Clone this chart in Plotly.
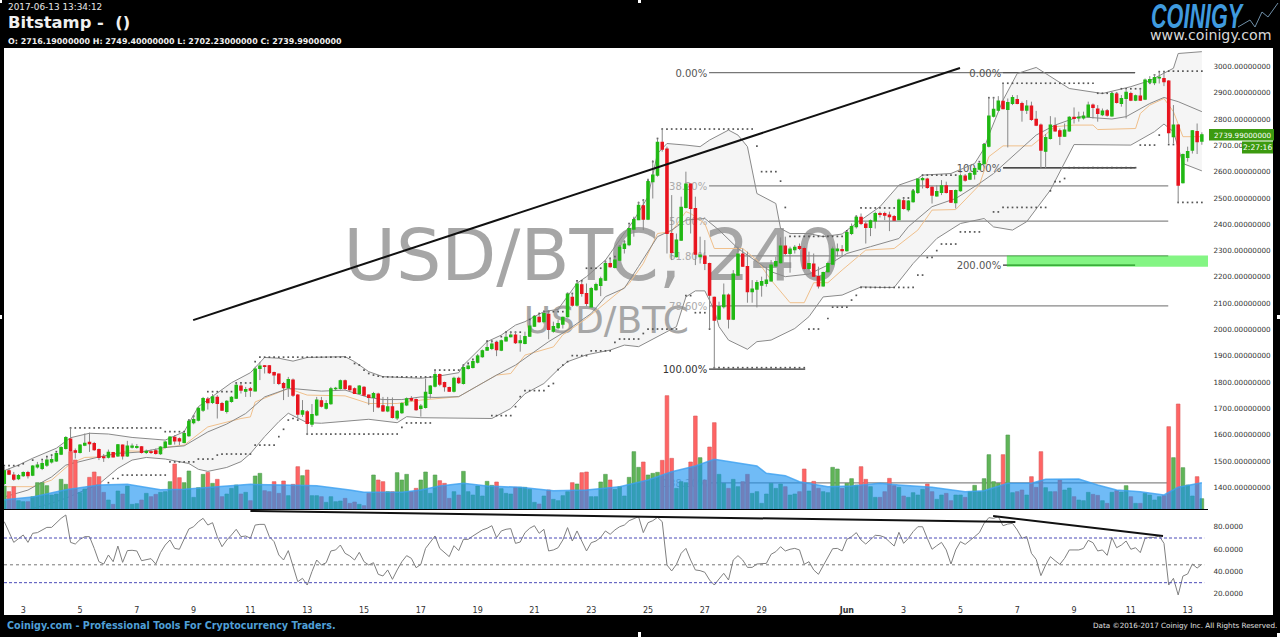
import pandas as pd
import plotly.graph_objects as go

open_ = [1415,1463,1447,1433,1445,1456,1447,1478,1472,1485,
1497,1501,1527,1548,1584,1539,1533,1561,1571,1567,
1544,1516,1515,1532,1520,1561,1520,1553,1552,1554,
1533,1535,1539,1528,1552,1565,1590,1585,1571,1597,
1646,1656,1694,1736,1723,1742,1719,1689,1727,1739,
1785,1766,1775,1767,1852,1862,1862,1836,1831,1795,
1779,1808,1751,1679,1687,1641,1676,1729,1701,1718,
1775,1776,1805,1785,1775,1757,1780,1751,1742,1755,
1710,1691,1706,1664,1684,1714,1738,1734,1700,1704,
1757,1785,1829,1798,1779,1766,1815,1795,1852,1856,
1876,1897,1922,1928,1950,1922,1957,1973,1979,1950,
1947,1975,2013,2046,2030,2058,1994,2007,2021,2049,
2122,2093,2170,2137,2086,2152,2168,2188,2251,2236,
2264,2308,2323,2382,2418,2470,2420,2562,2587,2711,
2686,2365,2277,2340,2464,2553,2460,2277,2279,2251,
2122,2040,2087,2131,2040,2207,2287,2239,2144,2154,
2169,2175,2185,2242,2254,2317,2289,2304,2315,2308,
2232,2249,2201,2166,2220,2249,2300,2304,2300,2365,
2391,2426,2401,2388,2413,2441,2441,2435,2429,2418,
2489,2456,2486,2521,2570,2572,2540,2508,2521,2546,
2528,2482,2528,2583,2572,2591,2610,2630,2697,2811,
2834,2867,2837,2859,2874,2859,2834,2849,2799,2777,
2678,2726,2774,2755,2735,2755,2806,2804,2804,2809,
2853,2838,2817,2831,2812,2895,2859,2878,2897,2872,
2887,2876,2940,2938,2956,2954,2944,2733,2777,2558,
2654,2682,2752,2716.19]
close = [1463,1451,1432,1445,1456,1445,1481,1485,1491,1504,
1506,1529,1551,1589,1539,1534,1561,1568,1566,1544,
1514,1513,1533,1516,1562,1520,1557,1557,1555,1533,
1537,1533,1529,1553,1572,1591,1577,1577,1605,1651,
1658,1701,1738,1722,1744,1719,1694,1727,1742,1788,
1770,1772,1770,1850,1861,1860,1836,1828,1795,1779,
1810,1751,1679,1691,1643,1677,1732,1709,1719,1775,
1777,1805,1776,1772,1757,1785,1751,1742,1757,1706,
1691,1706,1666,1689,1719,1737,1732,1696,1709,1761,
1785,1829,1793,1783,1766,1815,1798,1855,1861,1878,
1899,1919,1931,1945,1924,1957,1970,1979,1950,1957,
1973,2013,2049,2030,2061,2001,2011,2023,2046,2135,
2093,2173,2137,2099,2156,2171,2193,2251,2239,2264,
2312,2325,2384,2418,2472,2420,2562,2587,2711,2686,
2365,2293,2340,2464,2553,2460,2287,2283,2251,2131,
2036,2087,2131,2040,2211,2287,2241,2144,2154,2178,
2182,2188,2245,2258,2317,2289,2306,2312,2308,2232,
2251,2203,2166,2216,2251,2306,2306,2300,2368,2391,
2426,2403,2388,2413,2441,2438,2435,2429,2416,2492,
2460,2488,2526,2572,2574,2540,2511,2524,2546,2521,
2484,2528,2584,2568,2593,2612,2631,2703,2811,2837,
2868,2839,2862,2881,2859,2834,2849,2799,2777,2682,
2729,2777,2755,2735,2758,2806,2802,2806,2811,2853,
2844,2821,2830,2815,2897,2863,2878,2901,2872,2888,
2872,2948,2950,2957,2958,2942,2748,2777,2549,2665,
2676,2755,2714,2739.99]
high = [1478,1472,1459,1451,1461,1463,1485,1497,1501,1516,
1519,1535,1557,1595,1627,1548,1565,1605,1608,1573,
1548,1527,1544,1535,1565,1563,1577,1567,1565,1557,
1544,1544,1548,1557,1577,1595,1599,1590,1610,1658,
1675,1706,1744,1744,1755,1751,1725,1732,1747,1795,
1795,1782,1782,1859,1877,1865,1865,1840,1833,1801,
1820,1814,1755,1732,1694,1717,1744,1744,1732,1782,
1782,1810,1810,1789,1780,1789,1785,1753,1763,1760,
1744,1744,1742,1694,1724,1742,1747,1738,1717,1814,
1789,1846,1833,1802,1783,1821,1821,1865,1869,1884,
1907,1924,1954,1957,1956,1962,1992,1992,1992,1979,
1992,2036,2055,2055,2074,2074,2030,2036,2049,2140,
2137,2182,2182,2175,2162,2178,2201,2264,2274,2277,
2321,2340,2403,2429,2486,2492,2574,2644,2726,2764,
2695,2511,2365,2505,2600,2555,2505,2353,2340,2254,
2125,2106,2175,2137,2226,2315,2308,2296,2188,2188,
2201,2239,2264,2277,2350,2353,2315,2321,2327,2315,
2296,2289,2239,2220,2258,2315,2327,2321,2372,2403,
2435,2441,2410,2418,2448,2448,2448,2448,2435,2498,
2498,2492,2530,2574,2581,2577,2545,2549,2568,2562,
2530,2532,2593,2591,2600,2619,2638,2707,2882,2882,
2887,2935,2878,2891,2891,2866,2872,2866,2831,2783,
2743,2811,2806,2764,2783,2811,2844,2828,2828,2866,
2859,2853,2840,2838,2904,2900,2891,2910,2904,2893,
2916,2954,2963,2971,2980,2980,2948,2853,2781,2669,
2695,2758,2783,2749.4]
low = [1409,1447,1425,1428,1440,1434,1443,1472,1466,1478,
1491,1497,1523,1544,1535,1510,1529,1557,1535,1539,
1504,1497,1510,1514,1516,1506,1516,1548,1547,1529,
1527,1527,1525,1524,1548,1561,1563,1561,1567,1592,
1640,1651,1687,1696,1717,1662,1691,1681,1722,1736,
1757,1744,1744,1765,1808,1833,1831,1793,1789,1732,
1744,1744,1662,1668,1599,1630,1671,1704,1696,1714,
1767,1772,1770,1767,1755,1753,1747,1713,1687,1701,
1687,1686,1662,1656,1679,1709,1727,1691,1669,1700,
1738,1780,1785,1764,1764,1761,1793,1791,1848,1852,
1871,1893,1919,1922,1899,1918,1954,1970,1945,1916,
1944,1973,2011,2026,2023,1963,1988,2000,2004,2046,
2087,2087,2125,2089,2084,2147,2127,2185,2235,2232,
2260,2289,2317,2353,2416,2378,2416,2498,2581,2676,
2289,2264,2274,2337,2460,2365,2245,2251,2226,2004,
1852,2036,2080,2004,2036,2203,2239,2102,2102,2084,
2125,2163,2182,2239,2251,2283,2216,2289,2302,2226,
2226,2201,2156,2163,2216,2245,2277,2277,2296,2359,
2384,2397,2327,2355,2384,2426,2416,2374,2413,2416,
2456,2448,2482,2515,2536,2535,2479,2505,2511,2517,
2482,2460,2524,2562,2568,2570,2606,2627,2692,2806,
2830,2837,2692,2853,2856,2790,2819,2793,2773,2612,
2612,2722,2752,2701,2733,2752,2783,2790,2798,2806,
2802,2790,2811,2809,2809,2859,2847,2802,2868,2868,
2869,2872,2933,2929,2935,2925,2707,2707,2482,2555,
2638,2669,2667,2702.23]
volume = [69,52,67,25,22,22,37,79,79,70,
42,45,89,74,172,147,49,60,95,111,
97,50,27,14,54,45,69,14,16,27,
47,37,44,50,52,82,135,94,79,114,
35,64,104,110,77,89,37,45,62,72,
45,50,25,99,107,55,52,82,47,84,
40,74,127,100,117,40,40,37,20,37,
22,24,32,17,21,14,10,47,102,87,
82,52,52,109,87,104,52,62,87,111,
47,102,85,77,32,52,42,113,52,42,
69,39,83,71,81,61,47,45,65,65,
65,59,20,15,39,57,29,25,40,52,
79,75,109,111,37,37,81,104,87,59,
67,39,95,172,125,141,102,107,110,146,
340,152,62,82,79,141,279,154,87,186,
259,104,77,62,89,67,82,104,47,52,
17,45,77,62,75,67,42,45,52,120,
54,83,62,52,49,125,120,62,77,91,
72,127,89,67,35,35,52,92,70,65,
39,35,49,42,59,75,52,29,42,47,
25,42,42,35,52,71,52,91,163,82,
77,163,222,49,52,57,42,97,65,172,
64,52,52,87,57,63,37,27,25,50,
44,41,25,17,50,55,51,70,37,17,
17,47,42,27,37,40,247,154,315,124,
72,39,97,31]
rsi = [84.6,75.7,66.1,69.4,72.7,66.1,74.2,74.8,77.2,79.5,
79.5,83.7,87.6,90.6,66.1,64.6,68.8,71.2,71.2,60.7,
48.8,46.7,54.8,48.8,62.8,48.2,58.7,59,58.4,49.7,
50.3,51.5,46.7,56.9,63.7,68.2,60.7,59.9,69.1,78.1,
80.1,84.6,87.6,81.6,83.7,71.2,62.2,68.2,72.7,77.8,
71.2,71.8,69.7,81.6,82.2,82.2,71.2,66.7,54.8,50.3,
58.7,44.3,30.9,33.9,27.9,39.9,50.3,45.8,47.9,58.4,
59.3,63.7,56.3,53.9,50.3,57.2,48.8,45.8,47.9,37.5,
36,41.4,33,41.4,48.8,54.2,51.8,43.4,46.4,60.7,
66.7,71.8,60.7,56.9,53.3,63.1,58.7,68.8,68.8,71.8,
74.8,77.2,78.7,81,70.3,76.3,77.8,78.4,65.2,66.4,
74.8,78.7,81,74.2,77.8,58.4,59.3,61.3,68.2,79.3,
67.3,76.3,67.3,58.4,65.8,67.3,70.6,76.3,73.3,77.2,
80.1,81.6,85.5,87.6,89.1,74.8,83.7,85.5,88.5,84.6,
45.8,40.5,46.4,56.3,60.7,50.3,41.4,40.8,39.3,32.4,
27.9,33.3,38.4,32.4,50.3,54.2,50.3,43.7,43.7,46.7,
46.7,47.3,55.4,57.8,62.2,58.4,59.9,60.7,59.3,46.4,
48.8,41.4,37.5,44.9,53.3,60.4,60.7,58.4,68.8,71.2,
74.8,68.2,64.6,68.2,72.4,72.1,70.6,66.7,62.8,75.1,
65.2,69.7,75.7,80.1,80.1,69.7,59.9,63.1,66.1,59.3,
46.7,59.3,66.7,64.3,68.2,71.2,74.8,83.1,88.2,87.6,
89.1,81,82.5,83.1,77.2,69.7,71.2,56.3,50.9,36.3,
45.8,53.3,49.7,46.4,51.8,59.3,59.3,59.3,60.7,67.9,
65.8,58.4,59.3,54.5,70.3,61.3,63.7,67.3,59.9,61.3,
56.9,69.7,70.6,70.6,71.8,65.2,27.9,33.9,19,35.9,
37.8,46.7,43.1,46.4]

vol_ma_k = [0,6,13,20,26,33,38,45,52,59,66,73,76,84,88,92,97,102,109,116,123,130,136,141,146,150,155,159,161,165,168,174,179,185,189,196,203,207,212,217,220,227,231,235,240,245,248,253]
vol_ma = [28,36,58,72,74,58,59,67,74,72,70,57,50,50,57,69,77,69,65,55,57,67,87,112,129,149,139,129,107,100,82,67,69,77,72,65,52,55,77,77,89,90,72,57,52,42,65,79]

bb_up_k = [0,3,6,11,14,18,22,27,34,38,41,45,48,52,55,58,61,64,72,74,77,80,88,91,96,97,102,105,108,110,114,117,121,123,127,133,136,138,140,144,147,149,153,155,157,159,163,164,166,170,173,177,179,185,189,193,194,200,205,207,208,211,214,218,220,225,232,238,242,245,247,248,253]
bb_up = [1464,1485,1511,1549,1589,1606,1603,1590,1580,1612,1707,1758,1798,1836,1894,1891,1880,1894,1897,1878,1840,1821,1815,1821,1836,1865,1954,1979,2017,2030,2068,2077,2176,2201,2264,2416,2505,2669,2707,2701,2695,2720,2758,2739,2695,2517,2479,2384,2365,2365,2353,2363,2391,2467,2549,2574,2587,2593,2631,2688,2739,2872,2973,2996,2973,2916,2897,2923,2946,2973,2993,3049,3056]
bb_lo_k = [0,3,6,10,13,17,20,24,27,30,34,39,41,43,47,50,52,55,58,60,62,64,67,73,77,83,85,88,103,107,110,114,117,119,123,128,131,134,138,142,144,146,148,150,151,153,157,159,162,167,170,173,177,181,185,188,192,197,202,207,209,213,216,221,226,231,238,243,245,247,249,253]
bb_lo = [1300,1305,1320,1340,1359,1390,1413,1473,1504,1514,1508,1491,1469,1461,1476,1498,1529,1593,1650,1682,1663,1646,1644,1652,1659,1646,1669,1665,1662,1700,1756,1795,1848,1878,1904,1922,1941,1935,1973,2011,2124,2147,2147,2074,2011,1960,1925,1954,1960,2004,2049,2124,2131,2162,2160,2160,2251,2346,2403,2422,2390,2378,2410,2530,2703,2703,2701,2752,2781,2752,2631,2603]
bb_mid_k = [0,5,10,13,20,24,29,34,38,43,47,51,55,60,62,67,72,77,80,84,88,91,96,99,104,108,112,115,119,124,127,131,134,138,141,144,148,151,155,158,162,165,170,174,178,183,189,191,196,201,206,209,211,218,222,227,234,237,242,245,248,253]
bb_mid = [1364,1390,1440,1485,1516,1529,1535,1552,1558,1611,1641,1681,1744,1776,1774,1766,1770,1742,1734,1734,1744,1742,1745,1776,1827,1865,1916,1954,1998,2061,2125,2157,2240,2353,2378,2416,2422,2378,2308,2270,2220,2201,2211,2245,2289,2315,2346,2391,2467,2498,2555,2593,2625,2739,2777,2809,2800,2809,2859,2882,2866,2828]
ma2_k = [0,6,10,14,17,20,26,33,34,38,43,50,52,53,60,64,72,77,83,88,96,99,104,107,110,116,118,123,127,132,135,138,141,144,145,148,150,156,159,162,166,169,171,174,177,182,188,193,195,196,201,206,208,211,217,222,226,230,231,239,240,242,245,247,249,253]
ma2 = [1403,1403,1428,1491,1514,1516,1539,1535,1552,1561,1630,1662,1668,1725,1776,1751,1748,1719,1719,1732,1745,1776,1827,1833,1903,1934,1980,2042,2100,2175,2251,2365,2372,2448,2441,2403,2308,2308,2264,2188,2102,2102,2178,2178,2226,2302,2308,2378,2428,2454,2456,2549,2657,2698,2698,2771,2777,2777,2760,2764,2821,2853,2878,2828,2733,2733]

res_from = [0,4,6,8,9,10,11,12,13,14,34,39,40,41,43,49,53,54,55,74,75,76,77,78,79,80,91,97,98,99,100,101,102,104,105,106,111,112,113,114,119,121,123,127,128,129,130,131,132,133,134,135,136,137,138,139,159,160,164,165,166,178,179,180,181,190,192,193,194,202,206,207,208,211,231,236,242,243,244,246]
res_to = [3,4,6,8,9,10,11,12,13,33,38,39,40,41,48,52,53,54,73,74,75,76,77,78,79,90,96,97,98,99,100,101,103,104,105,109,111,112,113,118,120,122,126,127,128,129,130,131,132,133,134,135,136,137,138,158,159,163,164,165,177,178,179,180,189,191,192,193,201,202,206,207,209,230,235,241,242,243,245,253]
res_level = [1483,1490,1504,1506,1517,1523,1536,1548,1567,1626,1612,1656,1671,1684,1764,1797,1878,1895,1895,1871,1865,1846,1833,1827,1823,1820,1846,1865,1872,1887,1899,1916,1956,1954,1973,1990,2038,2051,2061,2068,2137,2185,2233,2258,2270,2277,2317,2334,2403,2422,2482,2492,2568,2638,2726,2762,2697,2600,2564,2464,2354,2375,2390,2430,2462,2500,2530,2568,2587,2600,2638,2705,2881,2936,2898,2915,2936,2968,2980,2982]
sup_from = [22,23,25,35,41,45,46,53,58,59,60,61,62,64,84,85,103,108,109,110,115,116,117,118,119,120,124,129,130,135,136,144,146,149,150,170,174,175,179,180,181,193,195,197,198,202,209,211,221,222,224,225,240,244,246,248]
sup_to = [22,24,34,40,44,45,52,57,58,59,60,61,62,83,84,90,107,108,109,114,115,116,117,118,119,123,128,129,134,135,142,145,148,149,169,172,174,178,179,180,192,194,196,197,201,206,210,220,221,223,224,239,243,244,247,253]
sup_level = [1418,1434,1447,1497,1508,1523,1527,1561,1593,1621,1656,1662,1656,1603,1628,1645,1673,1707,1745,1768,1785,1795,1848,1865,1878,1901,1919,1951,1964,1985,2002,2129,2064,2002,1855,2002,2042,2085,2112,2130,2160,2207,2274,2300,2325,2371,2447,2464,2527,2562,2574,2615,2701,2739,2703,2483]

fib_labels = ["0.00%","38.20%","50.00%","61.80%","78.60%","100.00%","138.20%","0.00%","100.00%","200.00%"]
fib_prices = [2976,2546,2412,2280,2090,1850,1417,2976,2614,2245]
fib_from_k = [148.9,148.9,148.9,148.9,148.9,148.9,148.9,211,211,211]
fib_to_k = [238.9,245.9,245.9,245.9,245.9,169.2,245.9,238.9,238.9,238.9]
fib_colors = ["#777777","#888888","#888888","#888888","#888888","#333333","#888888","#555555","#111111","#333333"]
fib_text_colors = ["#555555","#aaaaaa","#aaaaaa","#aaaaaa","#aaaaaa","#333333","#aaaaaa","#555555","#555555","#555555"]
price_ticks = list(range(1400, 3001, 100))
rsi_ticks = [20, 40, 60, 80]
day_labels = ["3","5","7","9","11","13","15","17","19","21","23","25","27","29","<b>Jun</b>","3","5","7","9","11","13"]
day_dates = ["2017-05-03","2017-05-05","2017-05-07","2017-05-09","2017-05-11","2017-05-13","2017-05-15","2017-05-17","2017-05-19","2017-05-21","2017-05-23","2017-05-25","2017-05-27","2017-05-29","2017-06-01","2017-06-03","2017-06-05","2017-06-07","2017-06-09","2017-06-11","2017-06-13"]

for arr in (open_, close, high, low, volume, rsi):
    assert len(arr) == 254, len(arr)

T0 = pd.Timestamp("2017-05-02 08:00")
H4 = pd.Timedelta(hours=4)
def kd(k):
    return T0 + H4 * k
dates = [kd(k) for k in range(254)]

L, R, T, B = 4, 1208, 48, 600
W, H = 1280, 637
def px(x): return (x - L) / (R - L)
def py(y): return (B - y) / (B - T)

fig = go.Figure()
GREEN, RED = "#21b814", "#e8141e"
FONT = "DejaVu Sans"

fig.add_trace(go.Scatter(x=[kd(k) for k in bb_up_k] + [kd(k) for k in reversed(bb_lo_k)],
                         y=bb_up + bb_lo[::-1], fill="toself", fillcolor="#f5f5f5",
                         mode="none", hoverinfo="skip", showlegend=False))
fig.add_trace(go.Scatter(x=[kd(124.2)], y=[2258], mode="text", text=["USD/BTC, 240"],
                         textfont=dict(family=FONT, size=71.5, color="#a6a6a6"), showlegend=False))
fig.add_trace(go.Scatter(x=[kd(127.2)], y=[2023], mode="text", text=["USD/BTC"],
                         textfont=dict(family=FONT, size=37.5, color="#a6a6a6"), showlegend=False))
for a, b, p, c in zip(fib_from_k, fib_to_k, fib_prices, fib_colors):
    fig.add_trace(go.Scatter(x=[kd(a), kd(b)], y=[p, p], mode="lines",
                             line=dict(color=c, width=1.3), showlegend=False))
for lab, a, p, c in zip(fib_labels, fib_from_k, fib_prices, fib_text_colors):
    fig.add_trace(go.Scatter(x=[kd(a - 0.4)], y=[p - 6], mode="text", text=[lab], textposition="middle left",
                             textfont=dict(family=FONT, size=10, color=c), showlegend=False))
fig.add_trace(go.Scatter(x=[kd(k) for k in ma2_k], y=ma2, mode="lines",
                         line=dict(color="#f0c08c", width=1), showlegend=False))
for ks, vs in ((bb_up_k, bb_up), (bb_lo_k, bb_lo), (bb_mid_k, bb_mid)):
    fig.add_trace(go.Scatter(x=[kd(k) for k in ks], y=vs, mode="lines",
                             line=dict(color="#8a8a8a", width=1), showlegend=False))
for fr, to, lv in ((res_from, res_to, res_level), (sup_from, sup_to, sup_level)):
    xs, ys = [], []
    for a, b, v in zip(fr, to, lv):
        for k in range(a, b + 1):
            xs.append(kd(k)); ys.append(v)
    fig.add_trace(go.Scatter(x=xs, y=ys, mode="markers", showlegend=False,
                             marker=dict(size=1.7, color="#555555", symbol="square")))
wx, wy = [], []
for d, h, l in zip(dates, high, low):
    wx += [d, d, None]; wy += [l, h, None]
fig.add_trace(go.Scatter(x=wx, y=wy, mode="lines", line=dict(color="#888888", width=1), showlegend=False))
body_hi = [max(o, c) for o, c in zip(open_, close)]
body_lo = [min(o, c) for o, c in zip(open_, close)]
fig.add_trace(go.Candlestick(x=dates, open=open_, high=body_hi, low=body_lo, close=close, yaxis="y2",
                             increasing=dict(line=dict(color=GREEN, width=1.2), fillcolor=GREEN),
                             decreasing=dict(line=dict(color=RED, width=1.2), fillcolor=RED),
                             whiskerwidth=0, showlegend=False))
vol_colors = ["#60b458" if c >= o else "#ff6464" for o, c in zip(open_, close)]
vol_lines = ["#4f9a4f" if c >= o else "#d85c5c" for o, c in zip(open_, close)]
fig.add_trace(go.Bar(x=dates, y=volume, yaxis="y3", width=4 * 3600 * 1000 * 0.78,
                     marker=dict(color=vol_colors, line=dict(color=vol_lines, width=0.6)), showlegend=False))
fig.add_trace(go.Scatter(x=[kd(k) for k in vol_ma_k], y=vol_ma, yaxis="y3", mode="lines", fill="tozeroy",
                         line=dict(color="rgba(60,160,240,0.8)", width=1.5),
                         fillcolor="rgba(24,146,240,0.62)", showlegend=False))
fig.add_trace(go.Scatter(x=dates, y=rsi, yaxis="y4", mode="lines",
                         line=dict(color="#808080", width=1), showlegend=False))

P0, P1 = 3252.3 - 3.8 * 509, 3252.3 - 3.8 * 48
R0, R1 = 70 - (600 - 538) / 1.117, 70 + (538 - 510) / 1.117
xstart, xend = kd(-0.06), kd(254.3)
tick_font = dict(family=FONT, size=7.2, color="#333333")
shapes = [
    dict(type="rect", xref="paper", yref="paper", x0=px(R), x1=px(1273), y0=py(615), y1=1, fillcolor="white", line_width=0, layer="below"),
    dict(type="rect", xref="paper", yref="paper", x0=px(4), x1=px(1273), y0=py(615), y1=py(B), fillcolor="white", line_width=0, layer="below"),
    dict(type="line", xref="x", yref="y4", x0=xstart, x1=kd(253.5), y0=70, y1=70, line=dict(color="#4a4ab8", width=1, dash="3px,2px")),
    dict(type="line", xref="x", yref="y4", x0=xstart, x1=kd(253.5), y0=30, y1=30, line=dict(color="#4a4ab8", width=1, dash="3px,2px")),
    dict(type="line", xref="x", yref="y4", x0=xstart, x1=kd(253.5), y0=46, y1=46, line=dict(color="#777777", width=1, dash="dot")),
    dict(type="line", xref="x", yref="y", x0=kd(39.9), x1=kd(201.9), y0=2036, y1=2994, line=dict(color="#111111", width=2)),
    dict(type="line", xref="x", yref="y4", x0=kd(52), x1=kd(213.6), y0=94.2, y1=84.3, line=dict(color="#111111", width=2)),
    dict(type="line", xref="x", yref="y4", x0=kd(208.9), x1=kd(244.8), y0=89.7, y1=71.8, line=dict(color="#111111", width=2)),
    dict(type="rect", xref="x", yref="y", x0=kd(211.8), x1=xend, y0=2239, y1=2281, fillcolor="rgba(20,235,20,0.52)", line_width=0),
    dict(type="rect", xref="paper", yref="paper", x0=px(1209), x1=px(1274), y0=py(140.5), y1=py(129), fillcolor="#3c9a10", line_width=0),
    dict(type="rect", xref="paper", yref="paper", x0=px(1242), x1=px(1273), y0=py(153.5), y1=py(141.5), fillcolor="#3c9a10", line_width=0),
]
for x0, x1, y0, y1 in ((638, 641, 0, 3), (638, 641, 632, 637), (0, 2, 315, 319), (1277, 1280, 315, 319), (0, 2, 0, 3), (1277, 1280, 633, 637)):
    shapes.append(dict(type="rect", xref="paper", yref="paper", x0=px(x0), x1=px(x1), y0=py(y1), y1=py(y0), fillcolor="white", line_width=0))
pts = [(1238, 27), (1250, 20), (1255, 27), (1262, 12), (1268, 17), (1278, 3)]
shapes.append(dict(type="path", xref="paper", yref="paper",
                   path="M " + " L ".join(f"{px(a):.5f},{py(b):.5f}" for a, b in pts),
                   line=dict(color="#6f8fa8", width=1)))

def note(x, y, text, size, color, bold=False, anchor="left", family=FONT, italic=False):
    t = f"<b>{text}</b>" if bold else text
    if italic:
        t = f"<i>{t}</i>"
    return dict(xref="paper", yref="paper", x=px(x), y=py(y), text=t, showarrow=False,
                xanchor=anchor, yanchor="middle", align=anchor,
                font=dict(family=family, size=size, color=color))

annotations = [
    note(6, 6.5, "2017-06-13 13:34:12", 8.9, "#e8e8e8"),
    note(6, 23, "Bitstamp -\u00a0\u00a0()", 16.4, "#f0f0f0", bold=True),
    note(6, 41, "O: 2716.19000000 H: 2749.40000000 L: 2702.23000000 C: 2739.99000000", 7.95, "#f0f0f0", bold=True),
    note(1149, 15, "COINIGY", 36, "#3f9ade", bold=True, italic=True, family="Liberation Sans"),
    note(1148, 35, "www.coinigy.com", 14.2, "#d8d8d8"),
    note(5, 625, "Coinigy.com - Professional Tools For Cryptocurrency Traders.", 9.6, "#4f9fd6", bold=True),
    note(1279, 625.5, "Data \u00a92016-2017 Coinigy Inc. All Rights Reserved.", 7.2, "#e0e0e0", anchor="right"),
    note(1212, 135, "2739.99000000", 7.2, "#ffffff"),
    note(1257.5, 147.5, "2:27:16", 7.6, "#ffffff", anchor="center"),
]

fig.update_layout(
    width=W, height=H, autosize=False,
    margin=dict(l=L, r=W - R, t=T, b=H - B, pad=0),
    paper_bgcolor="black", plot_bgcolor="white",
    showlegend=False, barmode="overlay", hovermode=False,
    shapes=shapes, annotations=annotations,
    xaxis=dict(type="date", range=[xstart, xend], anchor="y4", tickmode="array",
               tickvals=day_dates, ticktext=day_labels, tickfont=dict(family=FONT, size=8, color="#333333"),
               showgrid=False, zeroline=False, showline=False, ticks="outside", ticklen=2,
               tickcolor="rgba(0,0,0,0)", rangeslider=dict(visible=False)),
    yaxis=dict(domain=[py(509), 1], range=[P0, P1], side="right", anchor="x", tickmode="array",
               tickvals=price_ticks, tickformat=".8f", tickfont=tick_font, showgrid=False, zeroline=False,
               ticks="outside", ticklen=3, tickcolor="rgba(0,0,0,0)", showline=False),
    yaxis2=dict(overlaying="y", range=[P0, P1], side="right", anchor="x", visible=False),
    yaxis3=dict(overlaying="y", range=[0, 1383], side="right", anchor="x", visible=False),
    yaxis4=dict(domain=[0, py(510)], range=[R0, R1], side="right", anchor="x", tickmode="array",
                tickvals=rsi_ticks, tickformat=".4f", tickfont=tick_font, showgrid=False, zeroline=False,
                ticks="outside", ticklen=3, tickcolor="rgba(0,0,0,0)", showline=False),
)
page_fix = """
document.documentElement.style.background='black';
document.body.style.margin='0';
document.body.style.background='black';
document.body.style.overflow='hidden';
document.querySelectorAll('.annotation-text').forEach(function(t){
  if(t.textContent==='COINIGY'){
    var b=t.getBBox();
    t.setAttribute('transform','translate('+b.x+' 0) scale(0.6 1) translate('+(-b.x)+' 0)');
  }
});
"""
fig.write_html("out.html", post_script=page_fix, config={"displayModeBar": False})
